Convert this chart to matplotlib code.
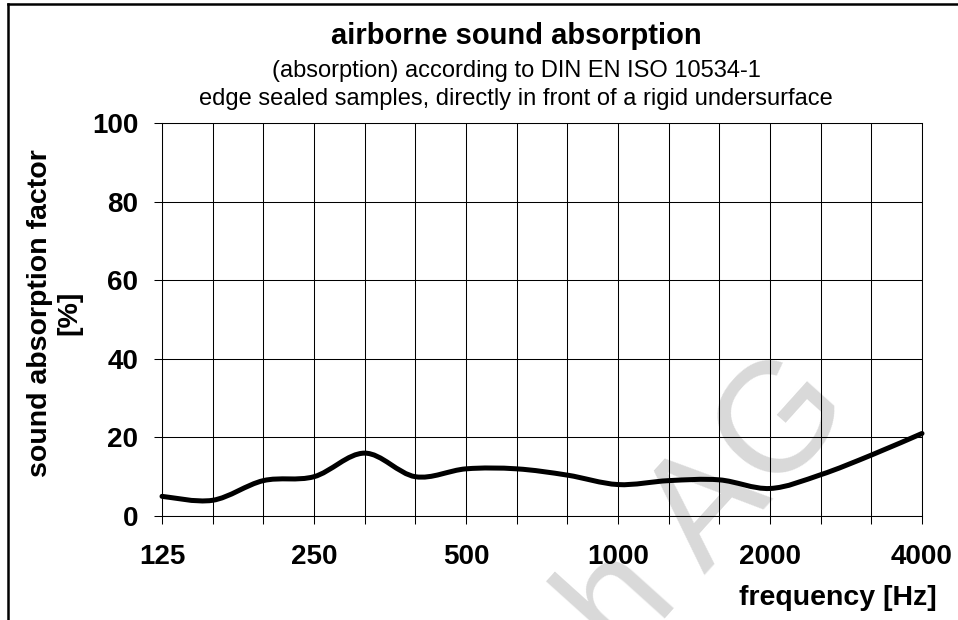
import numpy as np
import matplotlib.pyplot as plt
from matplotlib.path import Path
from matplotlib.patches import PathPatch
from matplotlib.lines import Line2D

plt.rcParams['font.family'] = ['Liberation Sans', 'DejaVu Sans']

# third-octave bands and measured absorption [%]
frequencies = ['125', '160', '200', '250', '315', '400', '500', '630', '800',
               '1000', '1250', '1600', '2000', '2500', '3150', '4000']
absorption = [5, 4, 9, 10, 16, 10, 12, 12, 10.4, 8, 9, 9.2, 7, 10.5, 15.5, 21]
octave_labels = ['125', '250', '500', '1000', '2000', '4000']
y_ticks = [0, 20, 40, 60, 80, 100]

W, H = 958, 620


def px(x, y):
    # pixel position -> figure fraction
    return x / W, 1 - y / H


fig = plt.figure(figsize=(W / 100, H / 100), dpi=100)
ax = fig.add_axes([162 / W, 1 - 516 / H, 760 / W, 393 / H])
ax.set_facecolor('none')

x = np.arange(len(frequencies))
pts = np.column_stack([x, absorption]).astype(float)

# smoothed line (bezier through the points, like the spreadsheet chart)
ext = np.vstack([pts[0], pts, pts[-1]])
verts = [pts[0]]
codes = [Path.MOVETO]
for i in range(len(pts) - 1):
    p0, p1, p2, p3 = ext[i], ext[i + 1], ext[i + 2], ext[i + 3]
    verts += [p1 + (p2 - p0) / 6, p2 - (p3 - p1) / 6, p2]
    codes += [Path.CURVE4] * 3
ax.add_patch(PathPatch(Path(verts, codes), fill=False, lw=3.6, edgecolor='black',
                       capstyle='round', joinstyle='round', zorder=3, clip_on=False))

ax.set_xlim(0, len(frequencies) - 1)
ax.set_ylim(0, 100)
ax.set_xticks(x)
ax.set_xticklabels([f if f in octave_labels else '' for f in frequencies])
ax.set_yticks(y_ticks)
ax.grid(True, color='black', lw=0.75)
ax.set_axisbelow(True)
ax.tick_params(direction='out', length=6, width=0.75, labelsize=20, color='black')
ax.tick_params(axis='x', pad=14)
ax.tick_params(axis='y', pad=11)
for lbl in ax.get_xticklabels() + ax.get_yticklabels():
    lbl.set_fontweight('bold')
for s in ax.spines.values():
    s.set_linewidth(0.75)

# titles
fig.text(*px(516, 44), 'airborne sound absorption', ha='center', va='baseline',
         fontsize=21, fontweight='bold')
fig.text(*px(516, 77), '(absorption) according to DIN EN ISO 10534-1',
         ha='center', va='baseline', fontsize=17)
fig.text(*px(516, 105), 'edge sealed samples, directly in front of a rigid undersurface',
         ha='center', va='baseline', fontsize=17)

# axis labels
fig.text(*px(47, 313), 'sound absorption factor', rotation=90, rotation_mode='anchor',
         ha='center', va='baseline', fontsize=20.5, fontweight='bold')
fig.text(*px(76, 313), '[%]', rotation=90, rotation_mode='anchor',
         ha='center', va='baseline', fontsize=20.5, fontweight='bold')
fig.text(*px(937, 605), 'frequency [Hz]', ha='right', va='baseline',
         fontsize=20.5, fontweight='bold')

# watermark
fig.text(*px(739, 536), 'h AG', rotation=48, rotation_mode='anchor', ha='center',
         va='baseline', fontsize=112, color='#d9d9d9', zorder=-1)

# frame (top and left edge)
fig.add_artist(Line2D([8 / W, 1.02], [1 - 4 / H] * 2, lw=1.8, color='black'))
fig.add_artist(Line2D([8 / W] * 2, [1 - 4 / H, -0.02], lw=1.8, color='black'))

fig.savefig('out.png', dpi=100)
